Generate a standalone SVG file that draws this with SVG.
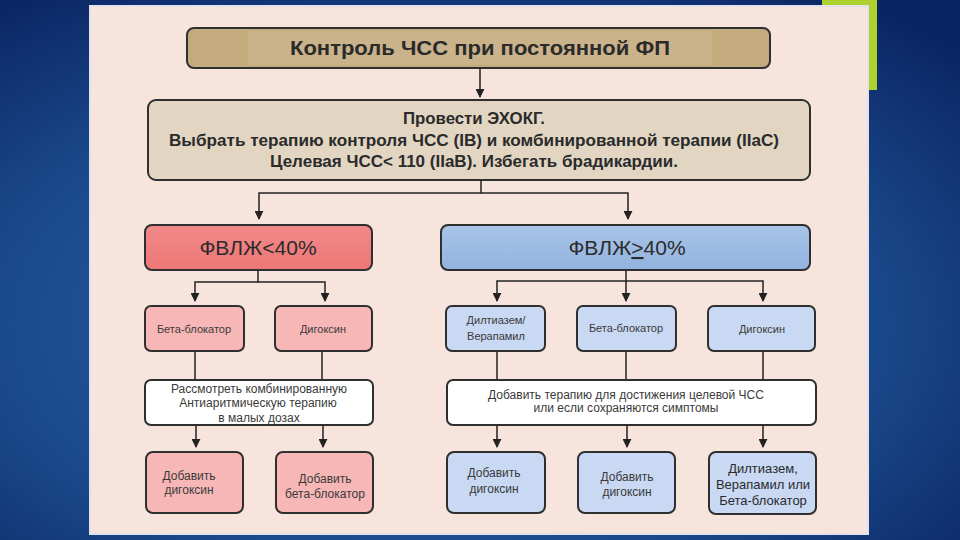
<svg xmlns="http://www.w3.org/2000/svg" width="960" height="540" viewBox="0 0 960 540">
<defs>
<radialGradient id="bg" cx="0.45" cy="0.6" r="0.75">
<stop offset="0" stop-color="#2c64aa"/>
<stop offset="0.6" stop-color="#1a4a8c"/>
<stop offset="1" stop-color="#0b2462"/>
</radialGradient>
<linearGradient id="red" x1="0" y1="0" x2="0" y2="1">
<stop offset="0" stop-color="#f28a8a"/>
<stop offset="1" stop-color="#ee7676"/>
</linearGradient>
<linearGradient id="blue" x1="0" y1="0" x2="0" y2="1">
<stop offset="0" stop-color="#a9c4e8"/>
<stop offset="1" stop-color="#92b3df"/>
</linearGradient>
<marker id="arr" viewBox="0 0 10 10" refX="9" refY="5" markerWidth="6" markerHeight="6" orient="auto">
<path d="M0,0 L10,5 L0,10 z" fill="#222"/>
</marker>
</defs>
<style>
.box{stroke:#2f2f2f;stroke-width:2}
.tan{fill:#c4ab7e}
.beige{fill:#e2d6c3}
.pink{fill:#f7b7b7}
.lblue{fill:#c9d8f3}
.white{fill:#ffffff}
.con{fill:none;stroke:#222;stroke-width:1.5}
.t{font-family:"Liberation Sans",Arial,sans-serif;fill:#2b2b2b;text-anchor:middle}
.b{font-weight:bold}
.s{font-size:11px;fill:#3a3a3a}
.w{font-size:12px;fill:#3a3a3a}
.m{font-size:12px;fill:#3a3a3a}
</style>
<rect x="0" y="0" width="960" height="540" fill="url(#bg)"/>
<rect x="822" y="0" width="55" height="90" fill="#aed12f"/>
<rect x="90" y="6" width="778" height="528" fill="#f6e4dd" stroke="#e2e2ee" stroke-width="2"/>

<g id="connectors">
<line class="con" x1="480" y1="68" x2="480" y2="97" marker-end="url(#arr)"/>
<path class="con" d="M481,180 V193 H259 V219" marker-end="url(#arr)"/>
<path class="con" d="M481,193 H628 V219" marker-end="url(#arr)"/>
<path class="con" d="M258,270 V282 H195 V301" marker-end="url(#arr)"/>
<path class="con" d="M258,282 H325 V301" marker-end="url(#arr)"/>
<path class="con" d="M626,270 V281 H497 V301" marker-end="url(#arr)"/>
<path class="con" d="M626,281 V301" marker-end="url(#arr)"/>
<path class="con" d="M626,281 H763 V301" marker-end="url(#arr)"/>
<path class="con" d="M195,351 V380 M322,351 V380 M497,351 V380 M626,351 V380 M763,351 V380"/>
<line class="con" x1="196" y1="425" x2="196" y2="447" marker-end="url(#arr)"/>
<line class="con" x1="323" y1="425" x2="323" y2="447" marker-end="url(#arr)"/>
<line class="con" x1="497" y1="425" x2="497" y2="447" marker-end="url(#arr)"/>
<line class="con" x1="627" y1="425" x2="627" y2="447" marker-end="url(#arr)"/>
<line class="con" x1="763" y1="425" x2="763" y2="447" marker-end="url(#arr)"/>
</g>

<g id="title">
<rect class="box tan" x="187" y="28" width="583" height="40" rx="7"/>
<rect x="248" y="31" width="464" height="34" fill="#cab38a"/>
<text class="t b" x="480" y="55" font-size="20.5" textLength="380" lengthAdjust="spacingAndGlyphs">Контроль ЧСС при постоянной ФП</text>
</g>

<g id="echo">
<rect class="box beige" x="148" y="100" width="662" height="80" rx="8"/>
<text class="t b" x="474" y="124" font-size="16.5" textLength="142" lengthAdjust="spacingAndGlyphs">Провести ЭХОКГ.</text>
<text class="t b" x="474" y="146" font-size="16.5" textLength="610" lengthAdjust="spacingAndGlyphs">Выбрать терапию контроля ЧСС (IB)  и комбинированной терапии (IIaC)</text>
<text class="t b" x="474" y="167" font-size="16.5" textLength="408" lengthAdjust="spacingAndGlyphs">Целевая ЧСС&lt; 110 (IIaB). Избегать брадикардии.</text>
</g>

<g id="lvef-low">
<rect class="box" fill="url(#red)" x="145" y="225" width="227" height="45" rx="7"/>
<text class="t" x="258" y="255" font-size="21">ФВЛЖ&lt;40%</text>
</g>
<g id="lvef-high">
<rect class="box" fill="url(#blue)" x="441" y="225" width="369" height="45" rx="7"/>
<text class="t" x="627" y="255" font-size="21">ФВЛЖ<tspan text-decoration="underline">&gt;</tspan>40%</text>
</g>

<g id="l-beta">
<rect class="box pink" x="145" y="306" width="99" height="45" rx="6"/>
<text class="t s" x="194" y="333">Бета-блокатор</text>
</g>
<g id="l-digoxin">
<rect class="box pink" x="275" y="306" width="97" height="45" rx="6"/>
<text class="t s" x="323" y="333">Дигоксин</text>
</g>
<g id="r-dilt">
<rect class="box lblue" x="446" y="306" width="99" height="45" rx="6"/>
<text class="t s" x="496" y="324">Дилтиазем/</text>
<text class="t s" x="496" y="340">Верапамил</text>
</g>
<g id="r-beta">
<rect class="box lblue" x="577" y="306" width="99" height="45" rx="6"/>
<text class="t s" x="626" y="332">Бета-блокатор</text>
</g>
<g id="r-digoxin">
<rect class="box lblue" x="708" y="306" width="107" height="45" rx="6"/>
<text class="t s" x="762" y="333">Дигоксин</text>
</g>

<g id="l-combo">
<rect class="box white" x="145" y="380" width="228" height="45" rx="6"/>
<text class="t w" x="259" y="393">Рассмотреть комбинированную</text>
<text class="t w" x="258" y="407">Антиаритмическую  терапию</text>
<text class="t w" x="259" y="422">в малых  дозах</text>
</g>
<g id="r-add">
<rect class="box white" x="447" y="380" width="369" height="45" rx="6"/>
<text class="t w" x="626" y="399">Добавить терапию для достижения целевой ЧСС</text>
<text class="t w" x="626" y="412">или  если сохраняются симптомы</text>
</g>

<g id="l-add-dig">
<rect class="box pink" x="146" y="452" width="97" height="61" rx="7"/>
<text class="t m" x="189" y="480">Добавить</text>
<text class="t m" x="189" y="494">дигоксин</text>
</g>
<g id="l-add-beta">
<rect class="box pink" x="276" y="452" width="97" height="61" rx="7"/>
<text class="t m" x="325" y="483">Добавить</text>
<text class="t m" x="325" y="498">бета-блокатор</text>
</g>
<g id="r-add-dig1">
<rect class="box lblue" x="447" y="452" width="98" height="61" rx="7"/>
<text class="t m" x="494" y="477">Добавить</text>
<text class="t m" x="494" y="493">дигоксин</text>
</g>
<g id="r-add-dig2">
<rect class="box lblue" x="578" y="452" width="97" height="61" rx="7"/>
<text class="t m" x="627" y="481">Добавить</text>
<text class="t m" x="627" y="496">дигоксин</text>
</g>
<g id="r-add-alt">
<rect class="box lblue" x="709" y="452" width="107" height="62" rx="7"/>
<text class="t" font-size="13" x="763" y="473">Дилтиазем,</text>
<text class="t" font-size="13" x="763" y="489">Верапамил или</text>
<text class="t" font-size="13" x="763" y="505">Бета-блокатор</text>
</g>
</svg>
